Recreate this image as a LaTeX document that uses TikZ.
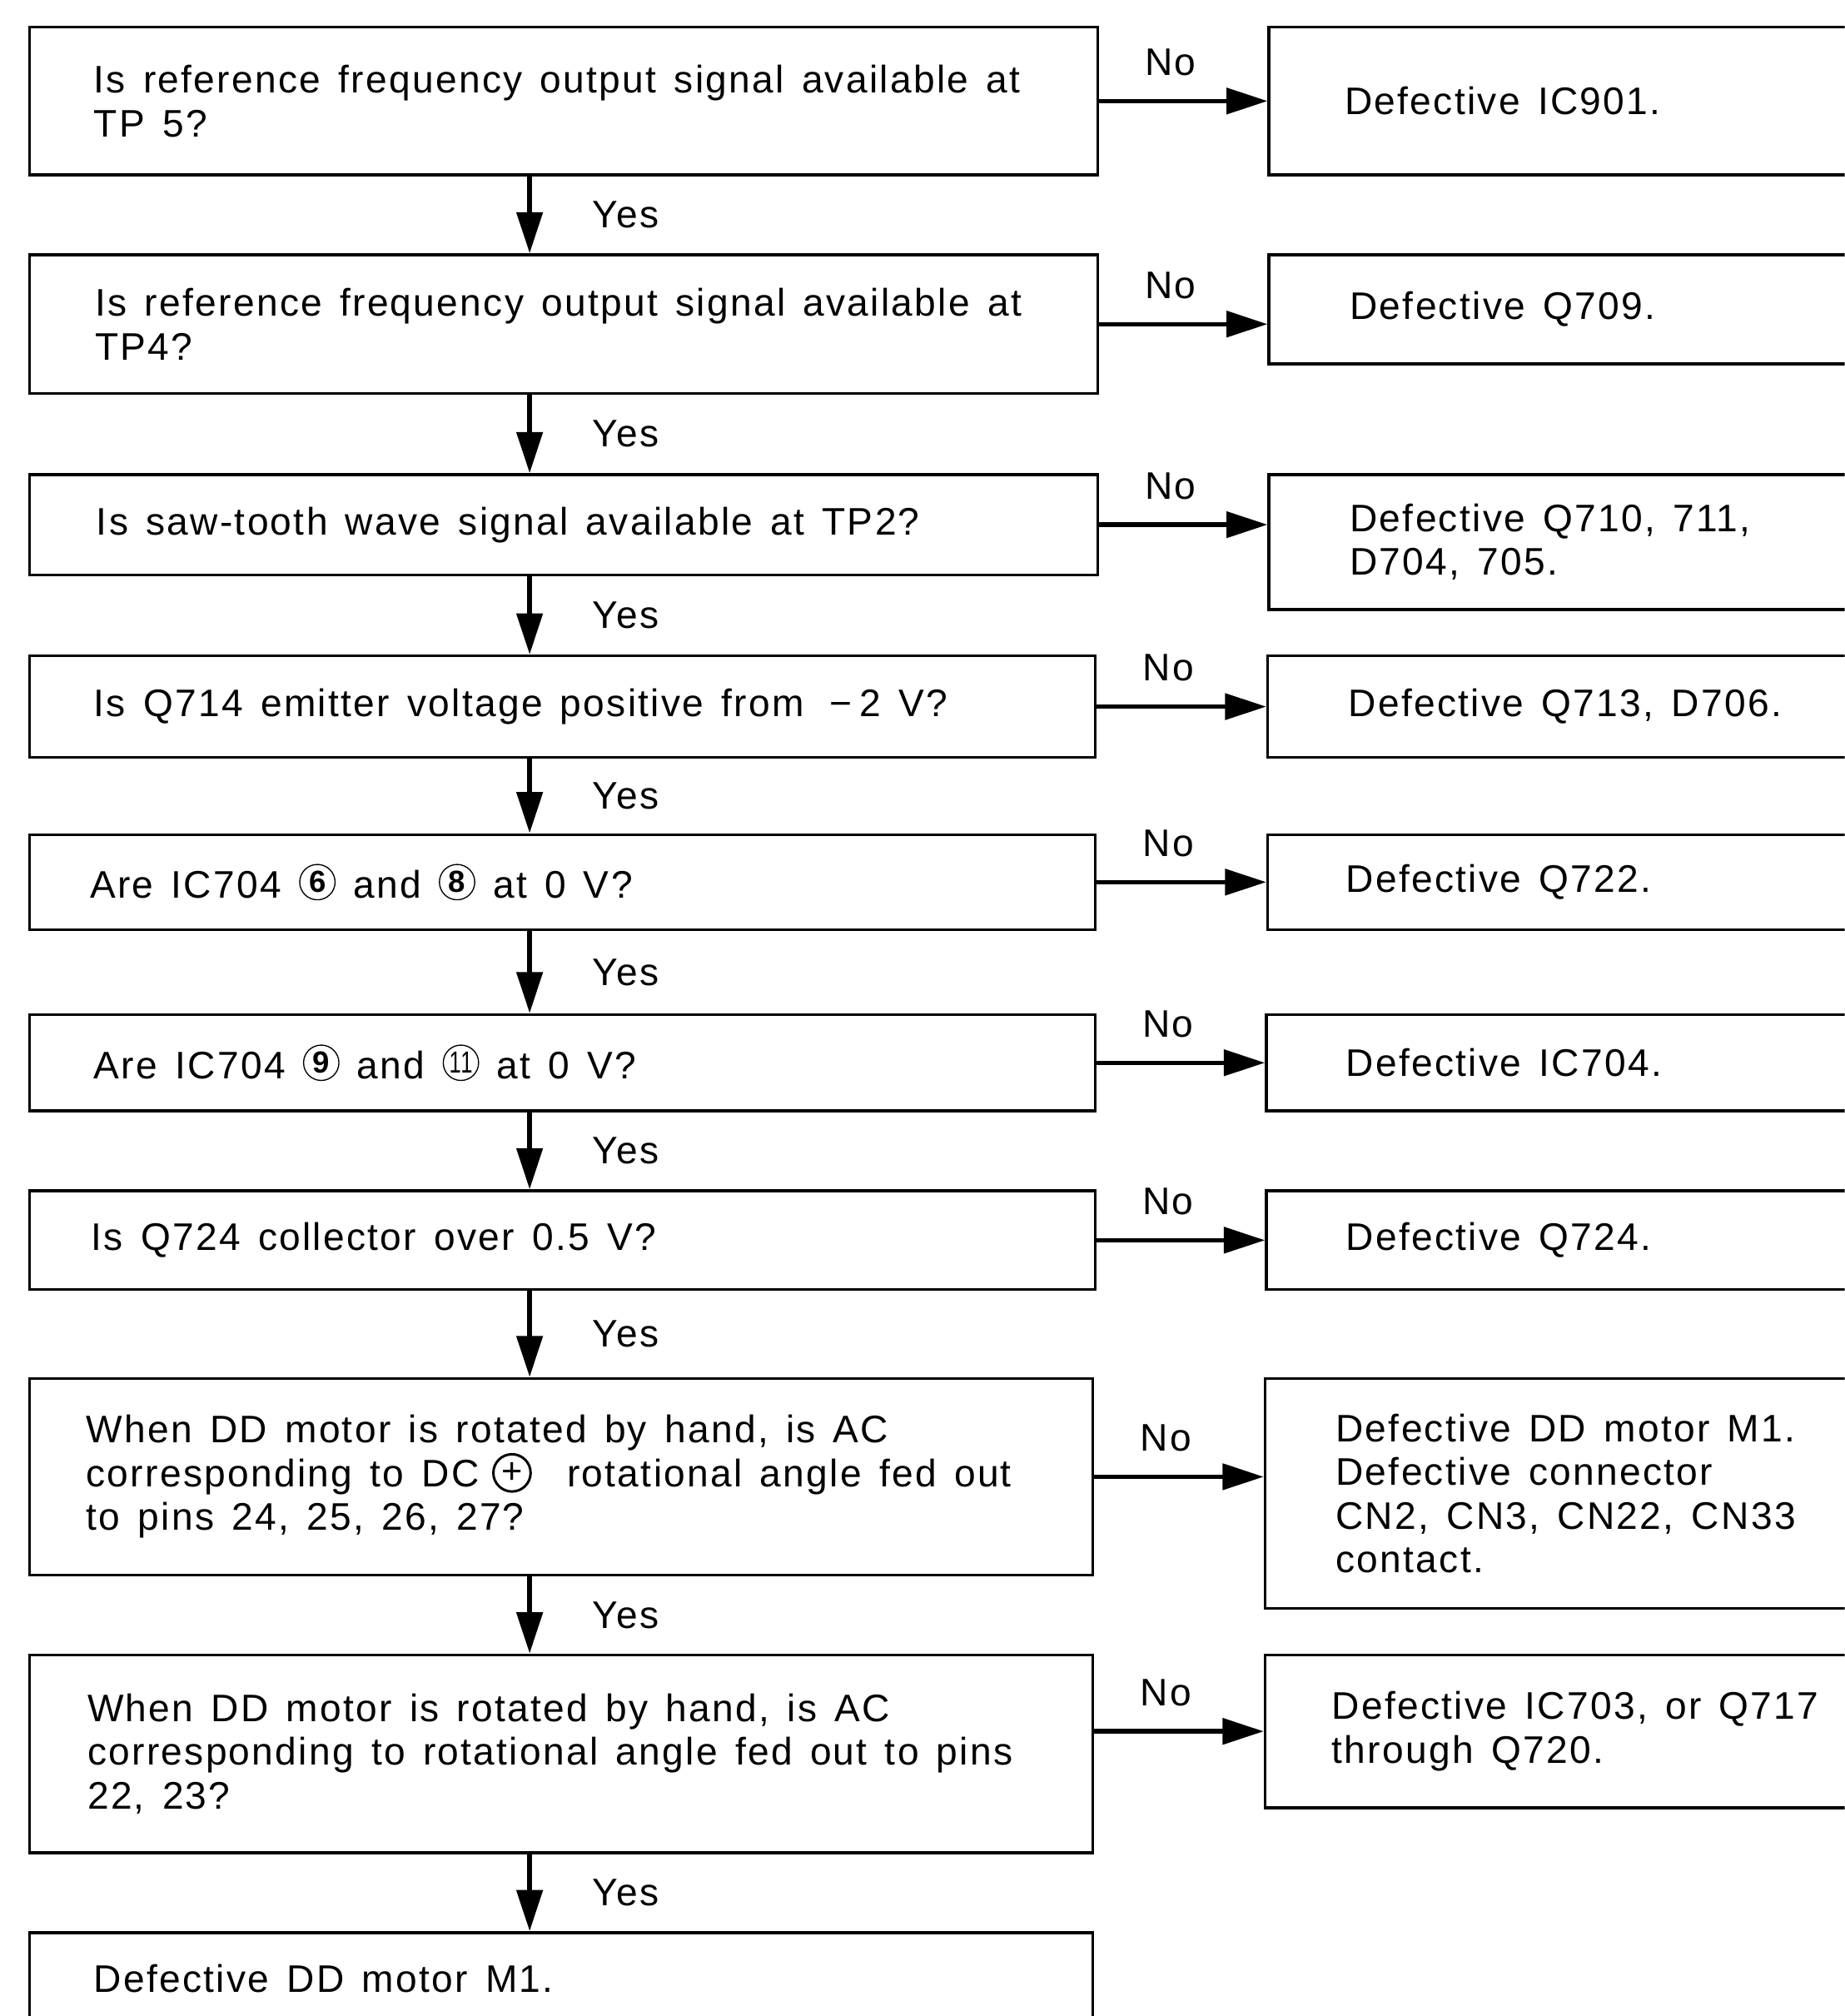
\documentclass[tikz,border=0pt]{standalone}
\usepackage{graphicx}
\usepackage{fontspec}
\setmainfont{Liberation Sans}[LetterSpace=5]
\usetikzlibrary{arrows.meta}
\newcommand\cnum[2][\bfseries]{\tikz[baseline={([yshift=-2.4pt]cn.base)}]\node[draw,circle,line width=0.5pt,inner sep=0pt,minimum size=0.55cm,font={\fontsize{13.5}{13.5}\selectfont#1}] (cn) {#2};}
\newcommand\pluscirc{\tikz[baseline={([yshift=-1.5pt]pc.base)}]\node[draw,circle,line width=1.1pt,inner sep=0pt,minimum size=0.58cm,font={\fontsize{16}{16}\selectfont}] (pc) {+};}
\begin{document}
\begin{tikzpicture}[x=0.02cm,y=-0.02cm,
  box/.style={draw, line width=1.25pt, rectangle, anchor=north west, inner xsep=0pt, inner ysep=0pt, align=left, font=\fontsize{17}{19.35}\selectfont},
  ind/.style={execute at begin node={\leftskip=#1\spaceskip=0.46em plus 0.1em minus 0.05em\relax}},
  arr/.style={line width=2pt, -{Triangle[length=0.64cm,width=0.4cm]}},
  yeslab/.style={anchor=west, inner sep=0pt, xshift=0.94cm, font=\fontsize{17}{19.35}\selectfont},
  nolab/.style={anchor=center, inner sep=0pt, xshift=-0.2cm, yshift=0.6cm, font=\fontsize{17}{19.35}\selectfont}]
\fill[white] (0,0) rectangle (1435,1568);
\useasboundingbox (0,0) rectangle (1435,1568);
\clip (0,0) rectangle (1435,1568);
% left column
\node[box, text width=16.62cm, minimum height=2.3cm, ind=1cm] (L1) at (22,20) {Is reference frequency output signal available at\\TP 5?};
\node[box, text width=16.62cm, minimum height=2.16cm, ind=1.02cm] (L2) at (22,197) {Is reference frequency output signal available at\\TP4?};
\node[box, text width=16.62cm, minimum height=1.56cm, ind=1.04cm] (L3) at (22,368) {Is saw-tooth wave signal available at TP2?};
\node[box, text width=16.58cm, minimum height=1.58cm, ind=1cm] (L4) at (22,509) {Is Q714 emitter voltage positive from\hspace{0.4cm}−\hspace{0.12cm}2 V?};
\node[box, text width=16.58cm, minimum height=1.48cm, ind=0.94cm] (L5) at (22,648) {Are IC704 \cnum{6} and \cnum{8} at 0 V?};
\node[box, text width=16.58cm, minimum height=1.5cm, ind=1cm] (L6) at (22,788) {Are IC704 \cnum{9} and \cnum[]{\scalebox{0.7}[1]{11}} at 0 V?};
\node[box, text width=16.58cm, minimum height=1.54cm, ind=0.96cm] (L7) at (22,925) {Is Q724 collector over 0.5 V?};
\node[box, text width=16.54cm, minimum height=3.06cm, ind=0.88cm] (L8) at (22,1071) {When DD motor is rotated by hand, is AC\\corresponding to DC\hspace{0.2cm}\pluscirc\hspace{0.55cm}rotational angle fed out\\to pins 24, 25, 26, 27?};
\node[box, text width=16.54cm, minimum height=3.08cm, ind=0.9cm] (L9) at (22,1286) {When DD motor is rotated by hand, is AC\\corresponding to rotational angle fed out to pins\\22, 23?};
\node[box, text width=16.54cm, minimum height=1.44cm, ind=1cm] (L10) at (22,1502) {Defective DD motor M1.};
% right column
\node[box, text width=9.48cm, minimum height=2.3cm, ind=1.18cm] (R1) at (986,20) {Defective IC901.};
\node[box, text width=9.48cm, minimum height=1.7cm, ind=1.26cm] (R2) at (986,197) {Defective Q709.};
\node[box, text width=9.48cm, minimum height=2.1cm, ind=1.26cm] (R3) at (986,368) {Defective Q710, 711,\\D704, 705.};
\node[box, text width=9.5cm, minimum height=1.58cm, ind=1.26cm] (R4) at (985,509) {Defective Q713, D706.};
\node[box, text width=9.5cm, minimum height=1.48cm, ind=1.22cm] (R5) at (985,648) {Defective Q722.};
\node[box, text width=9.52cm, minimum height=1.5cm, ind=1.24cm] (R6) at (984,788) {Defective IC704.};
\node[box, text width=9.52cm, minimum height=1.54cm, ind=1.24cm] (R7) at (984,925) {Defective Q724.};
\node[box, text width=9.54cm, minimum height=3.58cm, ind=1.1cm] (R8) at (983,1071) {Defective DD motor M1.\\Defective connector\\CN2, CN3, CN22, CN33\\contact.};
\node[box, text width=9.54cm, minimum height=2.38cm, ind=1.04cm] (R9) at (983,1286) {Defective IC703, or Q717\\through Q720.};
\coordinate (ax) at (412,0);
% Yes arrows
\draw[arr] (L1.south -| ax) -- (L2.north -| ax) node[midway, yeslab] (y1) {Yes};
\draw[arr] (L2.south -| ax) -- (L3.north -| ax) node[midway, yeslab] (y2) {Yes};
\draw[arr] (L3.south -| ax) -- (L4.north -| ax) node[midway, yeslab] (y3) {Yes};
\draw[arr] (L4.south -| ax) -- (L5.north -| ax) node[midway, yeslab] (y4) {Yes};
\draw[arr] (L5.south -| ax) -- (L6.north -| ax) node[midway, yeslab] (y5) {Yes};
\draw[arr] (L6.south -| ax) -- (L7.north -| ax) node[midway, yeslab] (y6) {Yes};
\draw[arr] (L7.south -| ax) -- (L8.north -| ax) node[midway, yeslab] (y7) {Yes};
\draw[arr] (L8.south -| ax) -- (L9.north -| ax) node[midway, yeslab] (y8) {Yes};
\draw[arr] (L9.south -| ax) -- (L10.north -| ax) node[midway, yeslab] (y9) {Yes};
% No arrows
\draw[arr] (L1.east) -- (R1.west |- L1.east) node[midway, nolab] (n1) {No};
\draw[arr] (L2.east) -- (R2.west |- L2.east) node[midway, nolab] (n2) {No};
\draw[arr] (L3.east) -- (R3.west |- L3.east) node[midway, nolab] (n3) {No};
\draw[arr] (L4.east) -- (R4.west |- L4.east) node[midway, nolab] (n4) {No};
\draw[arr] (L5.east) -- (R5.west |- L5.east) node[midway, nolab] (n5) {No};
\draw[arr] (L6.east) -- (R6.west |- L6.east) node[midway, nolab] (n6) {No};
\draw[arr] (L7.east) -- (R7.west |- L7.east) node[midway, nolab] (n7) {No};
\draw[arr] (L8.east) -- (R8.west |- L8.east) node[midway, nolab] (n8) {No};
\draw[arr] (L9.east |- R9.west) -- (R9.west) node[midway, nolab] (n9) {No};
\end{tikzpicture}
\end{document}
